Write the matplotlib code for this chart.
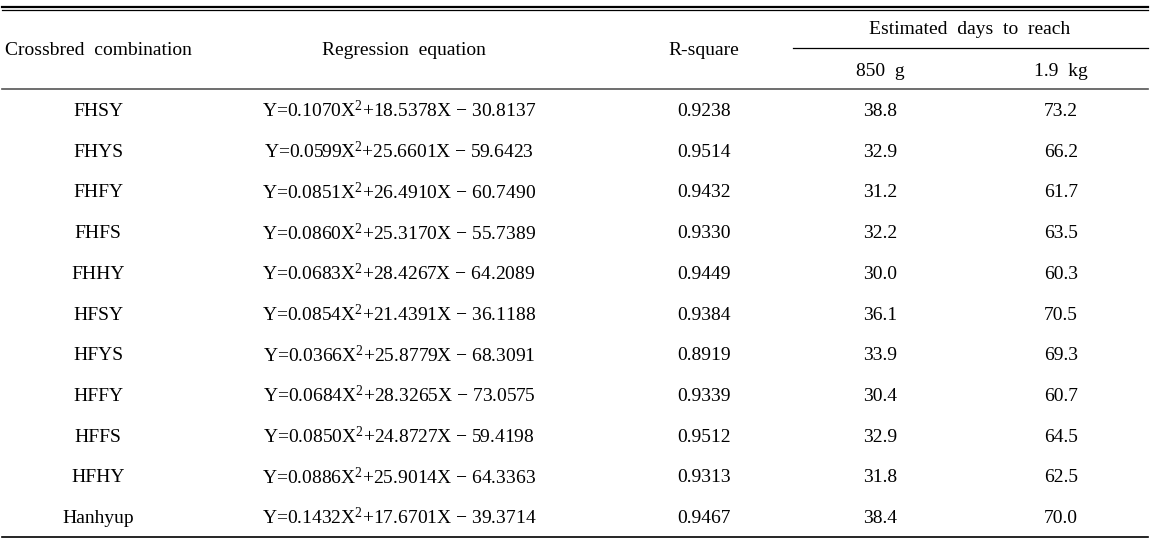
import matplotlib.pyplot as plt

plt.rcParams['font.family'] = ['Liberation Serif', 'DejaVu Serif']
plt.rcParams['mathtext.fontset'] = 'custom'
plt.rcParams['mathtext.rm'] = 'Liberation Serif'
plt.rcParams['mathtext.it'] = 'Liberation Serif:italic'

# dati della tabella
combinazioni = ['FHSY', 'FHYS', 'FHFY', 'FHFS', 'FHHY', 'HFSY', 'HFYS', 'HFFY', 'HFFS', 'HFHY', 'Hanhyup']
coef_a = ['0.1070', '0.0599', '0.0851', '0.0860', '0.0683', '0.0854', '0.0366', '0.0684', '0.0850', '0.0886', '0.1432']
coef_b = ['18.5378', '25.6601', '26.4910', '25.3170', '28.4267', '21.4391', '25.8779', '28.3265', '24.8727', '25.9014', '17.6701']
coef_c = ['30.8137', '59.6423', '60.7490', '55.7389', '64.2089', '36.1188', '68.3091', '73.0575', '59.4198', '64.3363', '39.3714']
r_quadro = ['0.9238', '0.9514', '0.9432', '0.9330', '0.9449', '0.9384', '0.8919', '0.9339', '0.9512', '0.9313', '0.9467']
giorni_850g = ['38.8', '32.9', '31.2', '32.2', '30.0', '36.1', '33.9', '30.4', '32.9', '31.8', '38.4']
giorni_19kg = ['73.2', '66.2', '61.7', '63.5', '60.3', '70.5', '69.3', '60.7', '64.5', '62.5', '70.0']

W, H = 1153, 543
fig = plt.figure(figsize=(W / 100, H / 100), dpi=100)
ax = fig.add_axes([0, 0, 1, 1])
ax.set_xlim(0, W)
ax.set_ylim(H, 0)
ax.axis('off')

fs = 14
x_col = [98, 399, 704, 880, 1061]

# linee orizzontali
ax.plot([2, 1148], [6.5, 6.5], color='black', lw=1.6)
ax.plot([2, 1148], [9.5, 9.5], color='black', lw=0.9)
ax.plot([793, 1148], [48, 48], color='black', lw=0.9)
ax.plot([2, 1148], [89, 89], color='#555555', lw=1.2)
ax.plot([2, 1148], [537, 537], color='black', lw=1.2)

# intestazione (testo allineato sulla linea di base)
kw = dict(ha='center', va='baseline', fontsize=fs)
ax.text(x_col[0], 55, 'Crossbred  combination', **kw)
ax.text(404, 55, 'Regression  equation', **kw)
ax.text(x_col[2], 55, 'R-square', **kw)
ax.text(970, 34, 'Estimated  days  to  reach', **kw)
ax.text(x_col[3], 76, '850  g', **kw)
ax.text(x_col[4], 76, '1.9  kg', **kw)

# righe
y0, dy = 116, 40.7
for i, nome in enumerate(combinazioni):
    y = y0 + i * dy
    eq = f'Y={coef_a[i]}X$^2$+{coef_b[i]}X \u2212 {coef_c[i]}'
    ax.text(x_col[0], y, nome, **kw)
    ax.text(x_col[1], y + 1.5, eq, **kw)
    ax.text(x_col[2], y, r_quadro[i], **kw)
    ax.text(x_col[3], y, giorni_850g[i], **kw)
    ax.text(x_col[4], y, giorni_19kg[i], **kw)

fig.savefig('out.png', dpi=100)
